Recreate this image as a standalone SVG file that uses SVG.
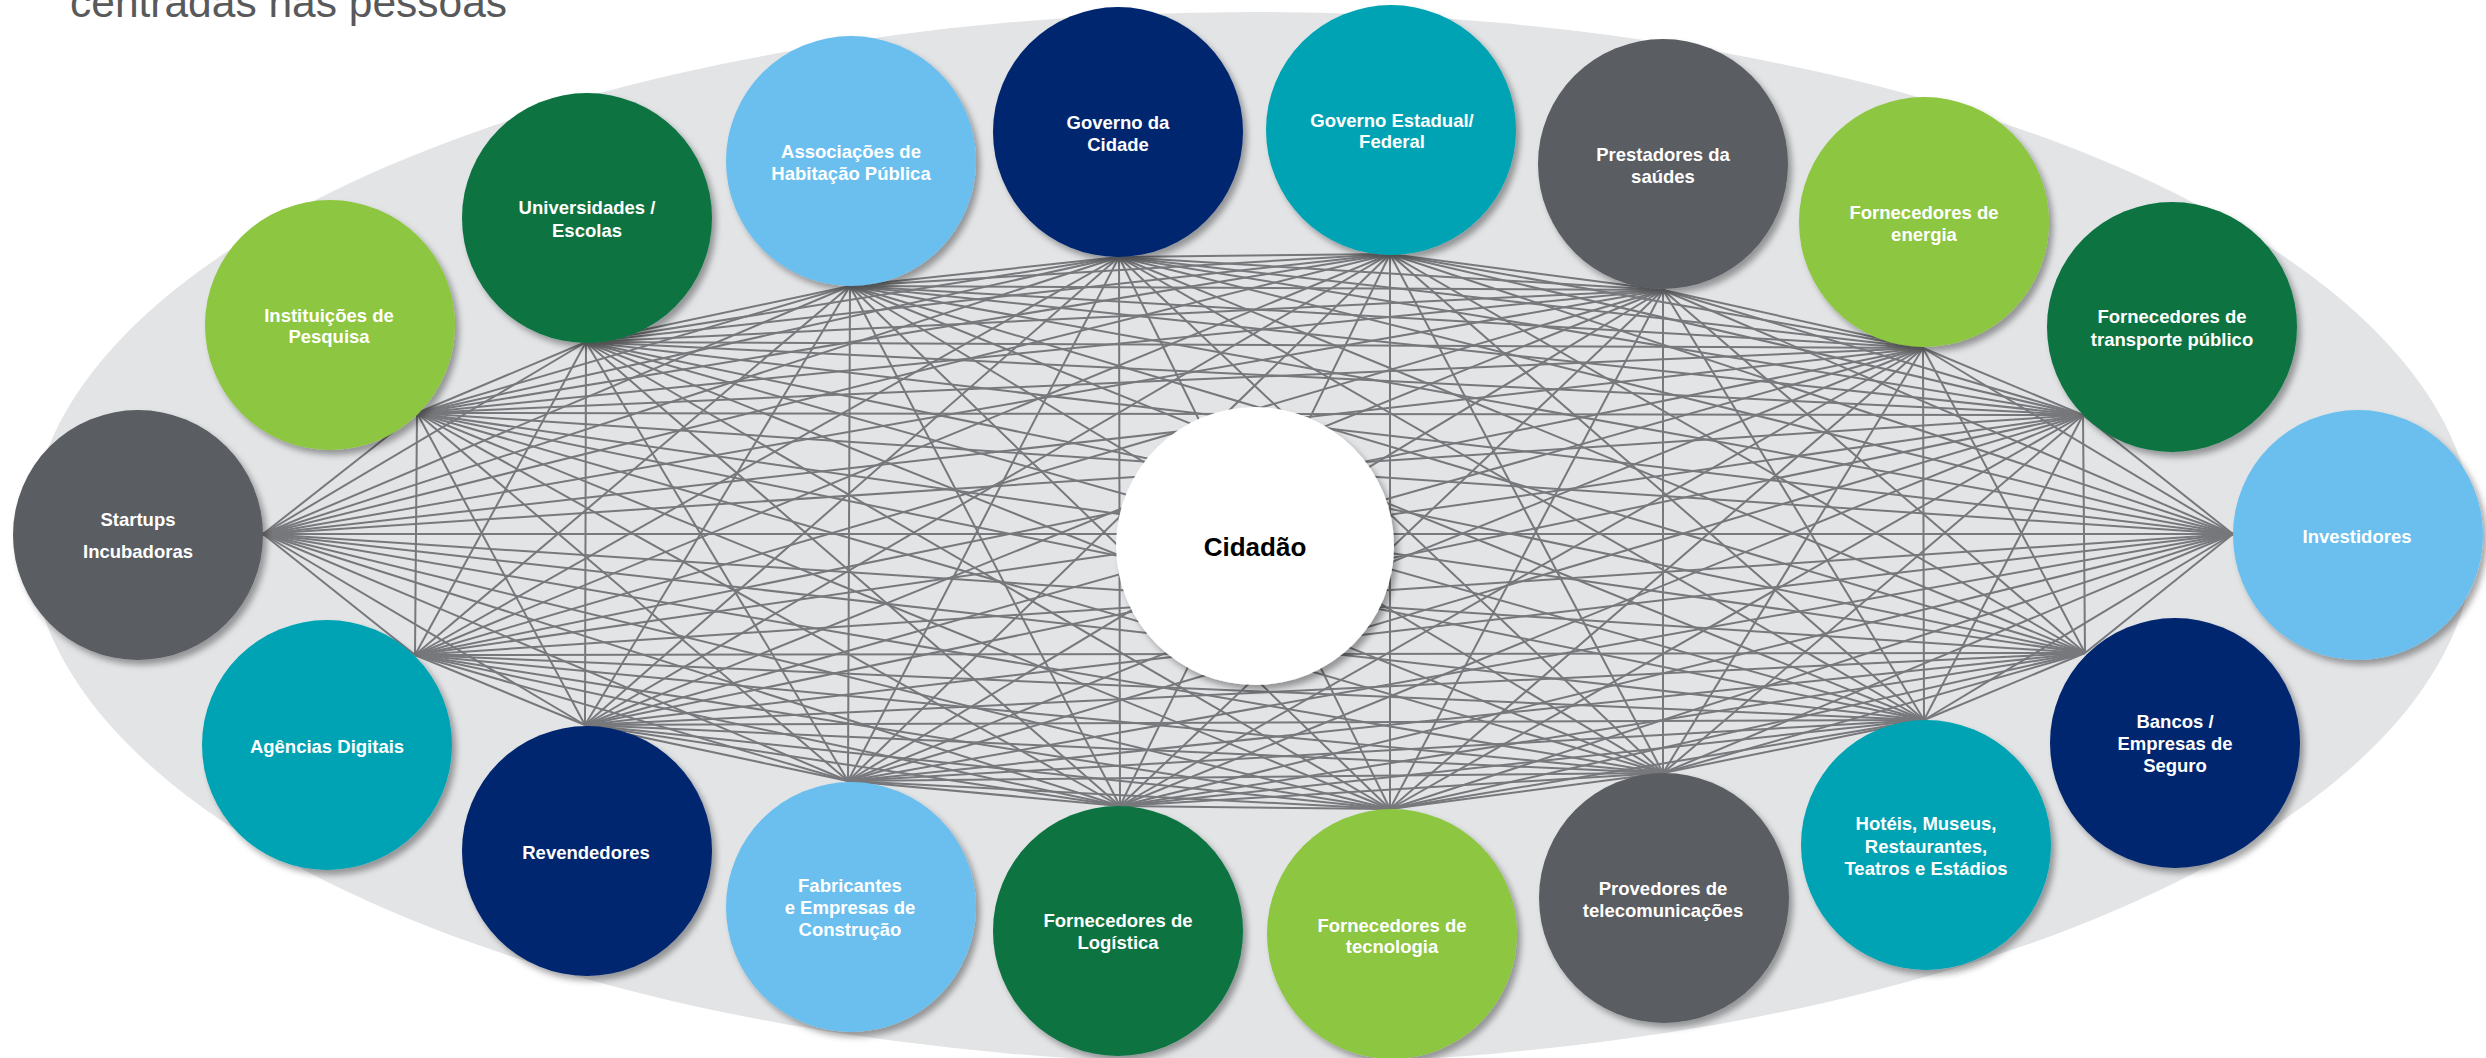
<svg xmlns="http://www.w3.org/2000/svg" width="2486" height="1058" viewBox="0 0 2486 1058">
<defs>
<filter id="sh" x="-20%" y="-20%" width="140%" height="140%">
<feDropShadow dx="4" dy="5" stdDeviation="3" flood-color="#000" flood-opacity="0.35"/>
</filter>
<style>
.c line{stroke:#77787b;stroke-width:2}
.n circle{filter:url(#sh)}
.n text{font-family:"Liberation Sans",Arial,sans-serif;font-weight:bold;font-size:18.5px;fill:#fff;text-anchor:middle}
.gray{fill:#5a5d62}.lg{fill:#8dc63f}.dg{fill:#0a7341}.lb{fill:#6abfef}.nv{fill:#06266f}.tl{fill:#05a3b3}
</style>
</defs>
<rect width="2486" height="1058" fill="#fff"/>
<ellipse cx="1252" cy="538" rx="1222" ry="526" fill="#e3e4e6"/>
<text x="70" y="17" font-family="Liberation Sans, Arial, sans-serif" font-size="42.5" fill="#58595b">centradas nas pessoas</text>
<g id="connectors" class="c">
<line x1="263" y1="534" x2="417" y2="413"/>
<line x1="263" y1="534" x2="586" y2="342"/>
<line x1="263" y1="534" x2="850" y2="286"/>
<line x1="263" y1="534" x2="1119" y2="257"/>
<line x1="263" y1="534" x2="1390" y2="254"/>
<line x1="263" y1="534" x2="1663" y2="290"/>
<line x1="263" y1="534" x2="1923" y2="348"/>
<line x1="263" y1="534" x2="2083" y2="415"/>
<line x1="263" y1="534" x2="2233" y2="534"/>
<line x1="263" y1="534" x2="2085" y2="653"/>
<line x1="263" y1="534" x2="1924" y2="720"/>
<line x1="263" y1="534" x2="1663" y2="773"/>
<line x1="263" y1="534" x2="1390" y2="809"/>
<line x1="263" y1="534" x2="1120" y2="806"/>
<line x1="263" y1="534" x2="848" y2="781"/>
<line x1="263" y1="534" x2="585" y2="725"/>
<line x1="263" y1="534" x2="415" y2="655"/>
<line x1="417" y1="413" x2="586" y2="342"/>
<line x1="417" y1="413" x2="850" y2="286"/>
<line x1="417" y1="413" x2="1119" y2="257"/>
<line x1="417" y1="413" x2="1390" y2="254"/>
<line x1="417" y1="413" x2="1663" y2="290"/>
<line x1="417" y1="413" x2="1923" y2="348"/>
<line x1="417" y1="413" x2="2083" y2="415"/>
<line x1="417" y1="413" x2="2233" y2="534"/>
<line x1="417" y1="413" x2="2085" y2="653"/>
<line x1="417" y1="413" x2="1924" y2="720"/>
<line x1="417" y1="413" x2="1663" y2="773"/>
<line x1="417" y1="413" x2="1390" y2="809"/>
<line x1="417" y1="413" x2="1120" y2="806"/>
<line x1="417" y1="413" x2="848" y2="781"/>
<line x1="417" y1="413" x2="585" y2="725"/>
<line x1="417" y1="413" x2="415" y2="655"/>
<line x1="586" y1="342" x2="850" y2="286"/>
<line x1="586" y1="342" x2="1119" y2="257"/>
<line x1="586" y1="342" x2="1390" y2="254"/>
<line x1="586" y1="342" x2="1663" y2="290"/>
<line x1="586" y1="342" x2="1923" y2="348"/>
<line x1="586" y1="342" x2="2083" y2="415"/>
<line x1="586" y1="342" x2="2233" y2="534"/>
<line x1="586" y1="342" x2="2085" y2="653"/>
<line x1="586" y1="342" x2="1924" y2="720"/>
<line x1="586" y1="342" x2="1663" y2="773"/>
<line x1="586" y1="342" x2="1390" y2="809"/>
<line x1="586" y1="342" x2="1120" y2="806"/>
<line x1="586" y1="342" x2="848" y2="781"/>
<line x1="586" y1="342" x2="585" y2="725"/>
<line x1="586" y1="342" x2="415" y2="655"/>
<line x1="850" y1="286" x2="1119" y2="257"/>
<line x1="850" y1="286" x2="1390" y2="254"/>
<line x1="850" y1="286" x2="1663" y2="290"/>
<line x1="850" y1="286" x2="1923" y2="348"/>
<line x1="850" y1="286" x2="2083" y2="415"/>
<line x1="850" y1="286" x2="2233" y2="534"/>
<line x1="850" y1="286" x2="2085" y2="653"/>
<line x1="850" y1="286" x2="1924" y2="720"/>
<line x1="850" y1="286" x2="1663" y2="773"/>
<line x1="850" y1="286" x2="1390" y2="809"/>
<line x1="850" y1="286" x2="1120" y2="806"/>
<line x1="850" y1="286" x2="848" y2="781"/>
<line x1="850" y1="286" x2="585" y2="725"/>
<line x1="850" y1="286" x2="415" y2="655"/>
<line x1="1119" y1="257" x2="1390" y2="254"/>
<line x1="1119" y1="257" x2="1663" y2="290"/>
<line x1="1119" y1="257" x2="1923" y2="348"/>
<line x1="1119" y1="257" x2="2083" y2="415"/>
<line x1="1119" y1="257" x2="2233" y2="534"/>
<line x1="1119" y1="257" x2="2085" y2="653"/>
<line x1="1119" y1="257" x2="1924" y2="720"/>
<line x1="1119" y1="257" x2="1663" y2="773"/>
<line x1="1119" y1="257" x2="1390" y2="809"/>
<line x1="1119" y1="257" x2="1120" y2="806"/>
<line x1="1119" y1="257" x2="848" y2="781"/>
<line x1="1119" y1="257" x2="585" y2="725"/>
<line x1="1119" y1="257" x2="415" y2="655"/>
<line x1="1390" y1="254" x2="1663" y2="290"/>
<line x1="1390" y1="254" x2="1923" y2="348"/>
<line x1="1390" y1="254" x2="2083" y2="415"/>
<line x1="1390" y1="254" x2="2233" y2="534"/>
<line x1="1390" y1="254" x2="2085" y2="653"/>
<line x1="1390" y1="254" x2="1924" y2="720"/>
<line x1="1390" y1="254" x2="1663" y2="773"/>
<line x1="1390" y1="254" x2="1390" y2="809"/>
<line x1="1390" y1="254" x2="1120" y2="806"/>
<line x1="1390" y1="254" x2="848" y2="781"/>
<line x1="1390" y1="254" x2="585" y2="725"/>
<line x1="1390" y1="254" x2="415" y2="655"/>
<line x1="1663" y1="290" x2="1923" y2="348"/>
<line x1="1663" y1="290" x2="2083" y2="415"/>
<line x1="1663" y1="290" x2="2233" y2="534"/>
<line x1="1663" y1="290" x2="2085" y2="653"/>
<line x1="1663" y1="290" x2="1924" y2="720"/>
<line x1="1663" y1="290" x2="1663" y2="773"/>
<line x1="1663" y1="290" x2="1390" y2="809"/>
<line x1="1663" y1="290" x2="1120" y2="806"/>
<line x1="1663" y1="290" x2="848" y2="781"/>
<line x1="1663" y1="290" x2="585" y2="725"/>
<line x1="1663" y1="290" x2="415" y2="655"/>
<line x1="1923" y1="348" x2="2083" y2="415"/>
<line x1="1923" y1="348" x2="2233" y2="534"/>
<line x1="1923" y1="348" x2="2085" y2="653"/>
<line x1="1923" y1="348" x2="1924" y2="720"/>
<line x1="1923" y1="348" x2="1663" y2="773"/>
<line x1="1923" y1="348" x2="1390" y2="809"/>
<line x1="1923" y1="348" x2="1120" y2="806"/>
<line x1="1923" y1="348" x2="848" y2="781"/>
<line x1="1923" y1="348" x2="585" y2="725"/>
<line x1="1923" y1="348" x2="415" y2="655"/>
<line x1="2083" y1="415" x2="2233" y2="534"/>
<line x1="2083" y1="415" x2="2085" y2="653"/>
<line x1="2083" y1="415" x2="1924" y2="720"/>
<line x1="2083" y1="415" x2="1663" y2="773"/>
<line x1="2083" y1="415" x2="1390" y2="809"/>
<line x1="2083" y1="415" x2="1120" y2="806"/>
<line x1="2083" y1="415" x2="848" y2="781"/>
<line x1="2083" y1="415" x2="585" y2="725"/>
<line x1="2083" y1="415" x2="415" y2="655"/>
<line x1="2233" y1="534" x2="2085" y2="653"/>
<line x1="2233" y1="534" x2="1924" y2="720"/>
<line x1="2233" y1="534" x2="1663" y2="773"/>
<line x1="2233" y1="534" x2="1390" y2="809"/>
<line x1="2233" y1="534" x2="1120" y2="806"/>
<line x1="2233" y1="534" x2="848" y2="781"/>
<line x1="2233" y1="534" x2="585" y2="725"/>
<line x1="2233" y1="534" x2="415" y2="655"/>
<line x1="2085" y1="653" x2="1924" y2="720"/>
<line x1="2085" y1="653" x2="1663" y2="773"/>
<line x1="2085" y1="653" x2="1390" y2="809"/>
<line x1="2085" y1="653" x2="1120" y2="806"/>
<line x1="2085" y1="653" x2="848" y2="781"/>
<line x1="2085" y1="653" x2="585" y2="725"/>
<line x1="2085" y1="653" x2="415" y2="655"/>
<line x1="1924" y1="720" x2="1663" y2="773"/>
<line x1="1924" y1="720" x2="1390" y2="809"/>
<line x1="1924" y1="720" x2="1120" y2="806"/>
<line x1="1924" y1="720" x2="848" y2="781"/>
<line x1="1924" y1="720" x2="585" y2="725"/>
<line x1="1924" y1="720" x2="415" y2="655"/>
<line x1="1663" y1="773" x2="1390" y2="809"/>
<line x1="1663" y1="773" x2="1120" y2="806"/>
<line x1="1663" y1="773" x2="848" y2="781"/>
<line x1="1663" y1="773" x2="585" y2="725"/>
<line x1="1663" y1="773" x2="415" y2="655"/>
<line x1="1390" y1="809" x2="1120" y2="806"/>
<line x1="1390" y1="809" x2="848" y2="781"/>
<line x1="1390" y1="809" x2="585" y2="725"/>
<line x1="1390" y1="809" x2="415" y2="655"/>
<line x1="1120" y1="806" x2="848" y2="781"/>
<line x1="1120" y1="806" x2="585" y2="725"/>
<line x1="1120" y1="806" x2="415" y2="655"/>
<line x1="848" y1="781" x2="585" y2="725"/>
<line x1="848" y1="781" x2="415" y2="655"/>
<line x1="585" y1="725" x2="415" y2="655"/>
</g>
<g class="n">
<g id="startups"><circle cx="138" cy="535" r="125" class="gray"/><text x="138" y="526">Startups</text><text x="138" y="558">Incubadoras</text></g>
<g id="instituicoes"><circle cx="330" cy="325" r="125" class="lg"/><text x="329" y="322">Instituições de</text><text x="329" y="343">Pesquisa</text></g>
<g id="universidades"><circle cx="587" cy="218" r="125" class="dg"/><text x="587" y="214">Universidades /</text><text x="587" y="237">Escolas</text></g>
<g id="associacoes"><circle cx="851" cy="161" r="125" class="lb"/><text x="851" y="158">Associações de</text><text x="851" y="180">Habitação Pública</text></g>
<g id="governo-cidade"><circle cx="1118" cy="132" r="125" class="nv"/><text x="1118" y="129">Governo da</text><text x="1118" y="151">Cidade</text></g>
<g id="governo-estadual"><circle cx="1391" cy="130" r="125" class="tl"/><text x="1392" y="127">Governo Estadual/</text><text x="1392" y="148">Federal</text></g>
<g id="prestadores"><circle cx="1663" cy="164" r="125" class="gray"/><text x="1663" y="161">Prestadores da</text><text x="1663" y="183">saúdes</text></g>
<g id="energia"><circle cx="1924" cy="222" r="125" class="lg"/><text x="1924" y="219">Fornecedores de</text><text x="1924" y="241">energia</text></g>
<g id="transporte"><circle cx="2172" cy="327" r="125" class="dg"/><text x="2172" y="323">Fornecedores de</text><text x="2172" y="346">transporte público</text></g>
<g id="investidores"><circle cx="2358" cy="535" r="125" class="lb"/><text x="2357" y="543">Investidores</text></g>
<g id="bancos"><circle cx="2175" cy="743" r="125" class="nv"/><text x="2175" y="728">Bancos /</text><text x="2175" y="750">Empresas de</text><text x="2175" y="772">Seguro</text></g>
<g id="hoteis"><circle cx="1926" cy="845" r="125" class="tl"/><text x="1926" y="830">Hotéis, Museus,</text><text x="1926" y="853">Restaurantes,</text><text x="1926" y="875">Teatros e Estádios</text></g>
<g id="provedores"><circle cx="1664" cy="898" r="125" class="gray"/><text x="1663" y="895">Provedores de</text><text x="1663" y="917">telecomunicações</text></g>
<g id="tecnologia"><circle cx="1392" cy="934" r="125" class="lg"/><text x="1392" y="932">Fornecedores de</text><text x="1392" y="953">tecnologia</text></g>
<g id="logistica"><circle cx="1118" cy="931" r="125" class="dg"/><text x="1118" y="927">Fornecedores de</text><text x="1118" y="949">Logística</text></g>
<g id="fabricantes"><circle cx="851" cy="907" r="125" class="lb"/><text x="850" y="892">Fabricantes</text><text x="850" y="914">e Empresas de</text><text x="850" y="936">Construção</text></g>
<g id="revendedores"><circle cx="587" cy="851" r="125" class="nv"/><text x="586" y="859">Revendedores</text></g>
<g id="agencias"><circle cx="327" cy="745" r="125" class="tl"/><text x="327" y="753">Agências Digitais</text></g>
<g id="cidadao"><circle cx="1255" cy="546" r="139" fill="#fff"/><text x="1255" y="556" style="fill:#000;font-size:26px">Cidadão</text></g>
</g>
</svg>
